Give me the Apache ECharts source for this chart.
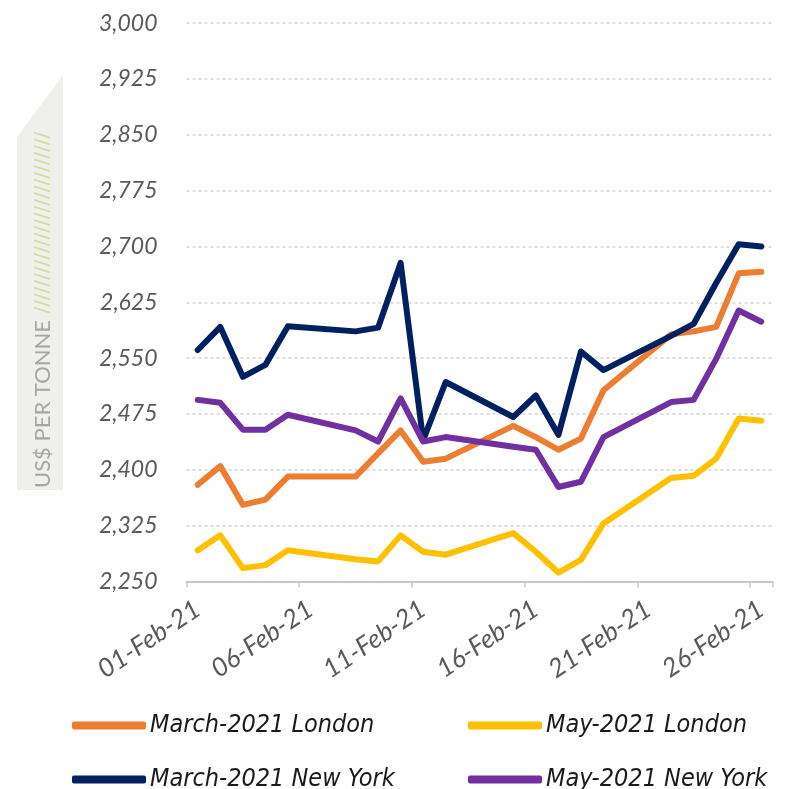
<!DOCTYPE html>
<html>
<head>
<meta charset="utf-8">
<title>Coffee futures Feb 2021</title>
<script src="https://cdn.jsdelivr.net/npm/echarts@6/dist/echarts.min.js"></script>
<style>
  html, body { margin: 0; padding: 0; background: #fff; }
  #chart { width: 785px; height: 789px; }
</style>
</head>
<body>
<div id="chart"></div>
<script>
// dates 01..26 Feb 2021 (weekends kept as empty slots)
const categories = [
  '01-Feb-21', '02-Feb-21', '03-Feb-21', '04-Feb-21', '05-Feb-21', '06-Feb-21', '07-Feb-21',
  '08-Feb-21', '09-Feb-21', '10-Feb-21', '11-Feb-21', '12-Feb-21', '13-Feb-21', '14-Feb-21',
  '15-Feb-21', '16-Feb-21', '17-Feb-21', '18-Feb-21', '19-Feb-21', '20-Feb-21', '21-Feb-21',
  '22-Feb-21', '23-Feb-21', '24-Feb-21', '25-Feb-21', '26-Feb-21'
];
const marchLondon = [2380, 2405, 2353, 2360, 2391, null, null, 2391, 2422, 2453, 2411, 2415, null, null,
  2459, 2444, 2427, 2442, 2507, null, null, 2582, 2586, 2592, 2664, 2666];
const mayLondon = [2292, 2312, 2268, 2272, 2292, null, null, 2280, 2277, 2312, 2290, 2286, null, null,
  2315, 2290, 2262, 2279, 2328, null, null, 2389, 2392, 2415, 2469, 2466];
const marchNewYork = [2561, 2592, 2525, 2541, 2593, null, null, 2586, 2591, 2678, 2440, 2518, null, null,
  2471, 2500, 2447, 2559, 2534, null, null, 2580, 2596, 2651, 2703, 2700];
const mayNewYork = [2494, 2490, 2454, 2454, 2474, null, null, 2453, 2438, 2496, 2438, 2444, null, null,
  2431, 2427, 2377, 2384, 2444, null, null, 2491, 2494, 2549, 2614, 2599];

const seriesNames = ['March-2021 London', 'May-2021 London', 'March-2021 New York', 'May-2021 New York'];
const seriesData = [marchLondon, mayLondon, marchNewYork, mayNewYork];
const colors = ['#ED7D31', '#FFC000', '#002060', '#7030A0'];

const chart = echarts.init(document.getElementById('chart'));

// legend placement, one legend per item (2 x 2)
const legendPos = [[72, 713], [468, 713], [72, 767], [468, 767]];
const legends = seriesNames.map((name, i) => ({
  data: [name],
  left: legendPos[i][0],
  top: legendPos[i][1],
  icon: 'roundRect',
  itemWidth: 74,
  itemHeight: 8,
  itemGap: 0,
  padding: 0,
  selectedMode: false,
  textStyle: {
    fontFamily: '"Liberation Sans Narrow", "DejaVu Sans Condensed", sans-serif',
    fontStyle: 'italic',
    fontSize: 25,
    color: '#1a1a1a',
    padding: [0, 0, 0, -1]
  }
}));

const option = {
  animation: false,
  color: colors,
  grid: {
    left: 186.5,
    right: 12.5,
    top: 23.2,
    bottom: 207.5,
    containLabel: false,
    outerBoundsMode: 'none'
  },
  legend: legends,
  xAxis: {
    type: 'category',
    data: categories,
    boundaryGap: true,
    axisLine: { lineStyle: { color: '#c8c8c8', width: 2 } },
    axisTick: { show: true, interval: 4, length: 6, lineStyle: { color: '#c8c8c8', width: 1.5 } },
    axisLabel: {
      interval: 4,
      rotate: 34,
      margin: 25,
      fontFamily: 'Lato, "Open Sans", sans-serif',
      fontStyle: 'italic',
      fontSize: 26,
      color: '#595959'
    },
    splitLine: { show: false }
  },
  yAxis: {
    type: 'value',
    min: 2250,
    max: 3000,
    interval: 75,
    axisLine: { show: false },
    axisTick: { show: false },
    axisLabel: {
      margin: 29,
      fontFamily: 'Lato, "Open Sans", sans-serif',
      fontStyle: 'italic',
      fontSize: 23,
      color: '#595959',
      formatter: v => v.toLocaleString('en-US')
    },
    splitLine: { lineStyle: { color: '#d4d4d4', width: 1.5, type: [3, 3] } }
  },
  graphic: [
    {
      type: 'polygon',
      shape: { points: [[17, 137], [63, 75], [63, 490], [17, 490]] },
      style: { fill: '#efefeb' },
      z: 0
    },
    {
      type: 'text',
      x: 42.5,
      y: 488,
      rotation: Math.PI / 2,
      style: {
        text: '{a|US$ PER TONNE}{b| ///////////////////////////}',
        textAlign: 'left',
        textVerticalAlign: 'middle',
        rich: {
          a: { fontFamily: 'Lato, "Open Sans", sans-serif', fontSize: 22, fill: '#a6a6a6' },
          b: { fontFamily: '"DejaVu Sans", sans-serif', fontSize: 20, fill: '#d3dc9c' }
        }
      },
      z: 1
    }
  ],
  series: seriesNames.map((name, i) => ({
    name: name,
    type: 'line',
    data: seriesData[i],
    connectNulls: true,
    showSymbol: false,
    symbol: 'none',
    lineStyle: { width: 6, color: colors[i], join: 'round', cap: 'round' },
    itemStyle: { color: colors[i] },
    z: [2, 2, 3, 4][i]
  }))
};

chart.setOption(option);
</script>
</body>
</html>
